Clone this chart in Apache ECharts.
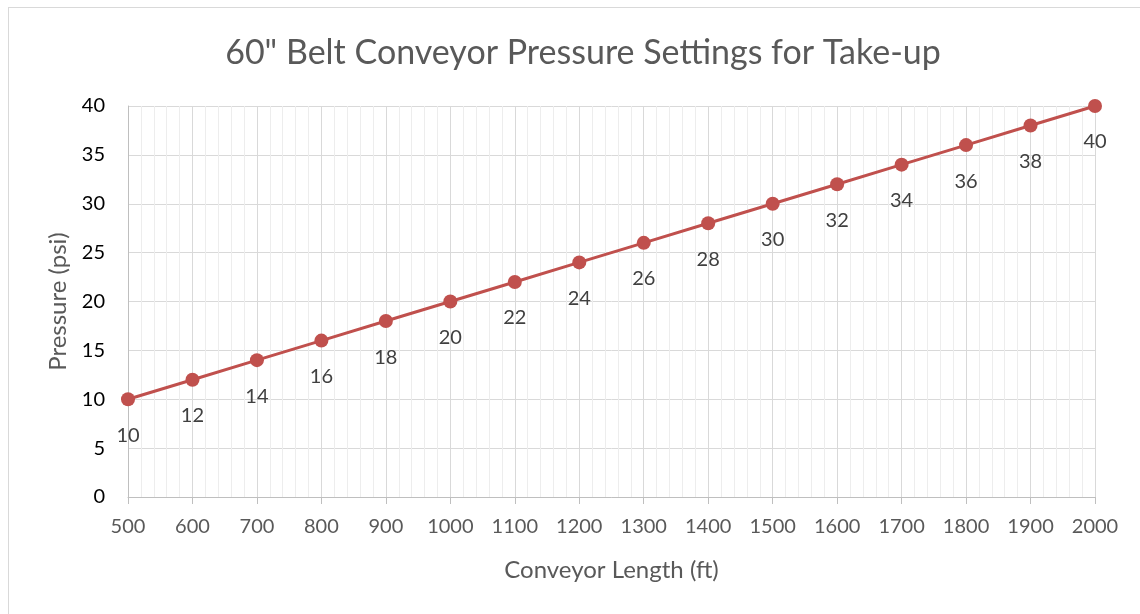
<!DOCTYPE html>
<html>
<head>
<meta charset="utf-8">
<script src="https://cdn.jsdelivr.net/npm/echarts@6/dist/echarts.min.js"></script>
<style>
  html, body { margin: 0; padding: 0; background: #fff; }
  #frame { position: absolute; left: 8px; top: 7px; width: 1140px; height: 620px;
           border-left: 1px solid #d9d9d9; border-top: 1px solid #d9d9d9; }
  #chart { position: absolute; left: 0; top: 0; width: 1140px; height: 614px; }
</style>
</head>
<body>
<div id="frame"></div>
<div id="chart"></div>
<script>
// Conveyor length (ft) and recommended take-up pressure (psi)
const lengths   = [500, 600, 700, 800, 900, 1000, 1100, 1200, 1300, 1400, 1500, 1600, 1700, 1800, 1900, 2000];
const pressures = [10, 12, 14, 16, 18, 20, 22, 24, 26, 28, 30, 32, 34, 36, 38, 40];

const titleText = '60" Belt Conveyor Pressure Settings for Take-up';
const xName = 'Conveyor Length (ft)';
const yName = 'Pressure (psi)';

const FONT = 'Lato, "Open Sans", sans-serif';
const chart = echarts.init(document.getElementById('chart'), null, { renderer: 'canvas' });

chart.setOption({
  backgroundColor: 'transparent',
  animation: false,
  title: {
    text: titleText,
    left: 578, top: 31, textAlign: 'center',
    textStyle: { fontFamily: FONT, fontSize: 34, fontWeight: 'normal', color: '#595959' }
  },
  grid: { left: 128, right: 45, top: 106, bottom: 117, containLabel: false },
  xAxis: {
    type: 'value', min: 500, max: 2000, interval: 100,
    name: xName, nameLocation: 'middle', nameGap: 61,
    nameTextStyle: { fontFamily: FONT, fontSize: 24, color: '#595959' },
    axisLine: { show: true, lineStyle: { color: '#bfbfbf', width: 1 } },
    axisTick: { show: true, length: 7, lineStyle: { color: '#bfbfbf' } },
    axisLabel: { fontFamily: FONT, fontSize: 20, color: '#595959', margin: 20, formatter: v => String(v) },
    splitLine: { show: true, lineStyle: { color: '#d9d9d9', width: 1 } },
    minorTick: { show: true, splitNumber: 5, length: 0 },
    minorSplitLine: { show: true, lineStyle: { color: '#ededed', width: 1 } }
  },
  yAxis: {
    type: 'value', min: 0, max: 40, interval: 5,
    name: yName, nameLocation: 'middle', nameGap: 58, nameRotate: 90,
    nameTextStyle: { fontFamily: FONT, fontSize: 24, color: '#595959' },
    axisLine: { show: true, lineStyle: { color: '#bfbfbf', width: 1 } },
    axisTick: { show: false },
    axisLabel: { fontFamily: FONT, fontSize: 20, color: '#000000', margin: 23 },
    splitLine: { show: true, lineStyle: { color: '#d9d9d9', width: 1 } }
  },
  series: [{
    type: 'line',
    data: lengths.map((x, i) => [x, pressures[i]]),
    symbol: 'circle', symbolSize: 14,
    lineStyle: { color: '#c0504d', width: 3 },
    itemStyle: { color: '#c0504d' },
    label: {
      show: true, position: 'bottom', distance: 19,
      formatter: p => p.value[1],
      fontFamily: FONT, fontSize: 20, color: '#404040'
    }
  }]
});
</script>
</body>
</html>
